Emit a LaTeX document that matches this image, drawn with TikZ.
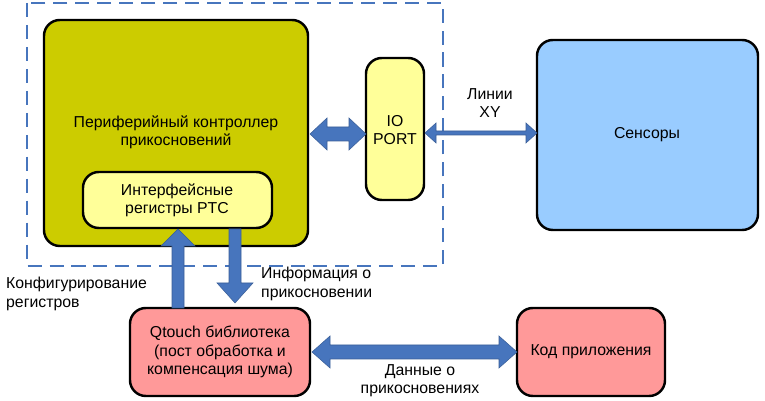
\documentclass[tikz,border=0pt]{standalone}
\usepackage{fontspec}
\setmainfont{Liberation Sans}
\begin{document}
\begin{tikzpicture}[x=0.02cm,y=-0.02cm,
  box/.style={draw=black,line width=1.4pt,rounded corners=9pt},
  lbl/.style={font=\fontsize{9}{10.4}\selectfont,align=center},
  blk/.style={fill=arrowblue,draw=arrowblue!80!black,line width=0.3pt}]
\definecolor{arrowblue}{HTML}{4775BD}
\definecolor{olive}{HTML}{CCCC00}
\definecolor{ly}{HTML}{FFFF99}
\definecolor{sky}{HTML}{99CCFF}
\definecolor{pink}{HTML}{FF9999}
\useasboundingbox (0,0) rectangle (765,401);
\draw[arrowblue,line width=1.2pt,dash pattern=on 8pt off 4.5pt] (27,3) rectangle (443,266);
\path[box,fill=olive] (44,20) rectangle (308,246);
\node[lbl] (ctlt) at (176,132) {Периферийный контроллер\\прикосновений};
\path[box,fill=ly] (83,172) rectangle (272,228);
\node[lbl] (reg) at (177,200) {Интерфейсные\\регистры PTC};
\path[box,fill=ly] (366,58) rectangle (424,200);
\node[lbl] (io) at (395,130) {IO\\PORT};
\path[box,fill=sky] (537,40) rectangle (758,230);
\node[lbl] (sen) at (647,135) {Сенсоры};
\path[box,fill=pink] (130,308) rectangle (310,396);
\node[lbl] (qt) at (220,352) {Qtouch библиотека\\(пост обработка и\\компенсация шума)};
\path[box,fill=pink] (517,308) rectangle (665,396);
\node[lbl] (app) at (591,352) {Код приложения};
% double arrow controller <-> IO
\fill[blk] (310,134) -- (327,118) -- (327,127) -- (349,127) -- (349,118) -- (366,134) -- (349,150) -- (349,141) -- (327,141) -- (327,150) -- cycle;
% thin arrow IO <-> sensors
\fill[blk] (425,133) -- (436,123) -- (436,131) -- (526,131) -- (526,123) -- (537,133) -- (526,143) -- (526,135) -- (436,135) -- (436,143) -- cycle;
% up arrow
\fill[blk] (178,229) -- (195,246) -- (184,246) -- (184,308) -- (172,308) -- (172,246) -- (161,246) -- cycle;
% down arrow
\fill[blk] (229,229) -- (241,229) -- (241,283) -- (253,283) -- (235,303) -- (217,283) -- (229,283) -- cycle;
% Qtouch <-> app
\fill[blk] (312,352) -- (330,336) -- (330,345) -- (499,345) -- (499,336) -- (517,352) -- (499,368) -- (499,359) -- (330,359) -- (330,368) -- cycle;
\node[lbl] (xy) at (490,103) {Линии\\XY};
\node[lbl,align=left,anchor=west] (cfg) at (0,294) {Конфигурирование\\регистров};
\node[lbl,align=left,anchor=west] (inf) at (255,284) {Информация о\\прикосновении};
\node[lbl] (dat) at (420,381) {Данные о\\прикосновениях};
\end{tikzpicture}
\end{document}
